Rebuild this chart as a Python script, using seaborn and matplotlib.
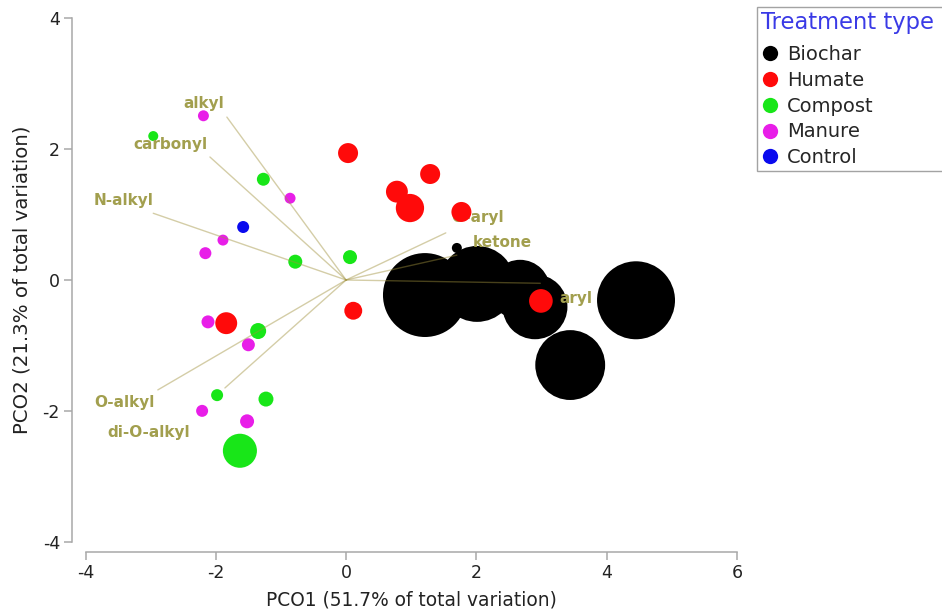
import matplotlib
matplotlib.use("Agg")
import matplotlib.pyplot as plt
from matplotlib.lines import Line2D
import numpy as np
import pandas as pd
import seaborn as sns

# --- Sample scores on the first two principal coordinates ---
treatments = ["Biochar", "Humate", "Compost", "Manure", "Control"]

biochar_pco1 = [1.21, 2.01, 2.67, 2.90, 4.45, 3.44, 1.70]
biochar_pco2 = [-0.23, -0.06, -0.15, -0.41, -0.31, -1.30, 0.49]
biochar_bubble = [176, 144, 90, 105, 152, 122, 2.5]

humate_pco1 = [0.03, 0.78, 0.98, 1.29, 1.77, 0.11, -1.84, 2.99]
humate_pco2 = [1.94, 1.35, 1.10, 1.62, 1.04, -0.47, -0.66, -0.32]
humate_bubble = [10, 12, 20, 10, 10, 8, 12, 14]

compost_pco1 = [-2.96, -1.27, 0.06, -0.78, -1.35, -1.98, -1.23, -1.63]
compost_pco2 = [2.20, 1.54, 0.35, 0.28, -0.78, -1.76, -1.82, -2.61]
compost_bubble = [2.5, 4.2, 4.9, 4.9, 6.4, 3.6, 5.6, 29]

manure_pco1 = [-2.19, -0.86, -1.89, -2.16, -2.12, -1.50, -2.21, -1.52]
manure_pco2 = [2.51, 1.25, 0.61, 0.41, -0.64, -0.99, -2.00, -2.16]
manure_bubble = [3.0, 3.0, 3.0, 3.6, 4.2, 4.2, 3.6, 4.9]

control_pco1 = [-1.58]
control_pco2 = [0.81]
control_bubble = [3.6]

# --- Vector overlay of C functional groups ---
vector_names = ["alkyl", "carbonyl", "N-alkyl", "O-alkyl", "di-O-alkyl",
                "O-aryl", "ketone", "aryl"]
vector_pco1 = [-1.83, -2.09, -2.96, -2.89, -1.86, 1.53, 1.70, 2.98]
vector_pco2 = [2.49, 1.88, 1.02, -1.68, -1.65, 0.72, 0.38, -0.05]

# label placement relative to vector tips (points), alignment, layer
label_offsets = {
    "alkyl": (-17, 10, "center", 4),
    "carbonyl": (-2, 9, "right", 4),
    "N-alkyl": (0, 9, "right", 4),
    "O-alkyl": (-2, -9, "right", 4),
    "di-O-alkyl": (-25, -32, "right", 4),
    "O-aryl": (4, 11, "left", 1),
    "ketone": (11.5, 9, "left", 4),
    "aryl": (14, -11, "left", 4),
}

palette = {
    "Biochar": "#000000",
    "Humate": "#ff0a0a",
    "Compost": "#18e618",
    "Manure": "#e81ee8",
    "Control": "#0a0aee",
}

frames = []
for name, xs, ys, bs in [
    ("Biochar", biochar_pco1, biochar_pco2, biochar_bubble),
    ("Humate", humate_pco1, humate_pco2, humate_bubble),
    ("Compost", compost_pco1, compost_pco2, compost_bubble),
    ("Manure", manure_pco1, manure_pco2, manure_bubble),
    ("Control", control_pco1, control_pco2, control_bubble),
]:
    frames.append(pd.DataFrame({"PCO1": xs, "PCO2": ys, "bubble": bs,
                                "Treatment": name}))
scores = pd.concat(frames, ignore_index=True)

sns.set_theme(style="white")
plt.rcParams["font.family"] = ["DejaVu Sans"]
plt.rcParams["axes.unicode_minus"] = False

fig = plt.figure(figsize=(9.42, 6.14), dpi=100)
ax = fig.add_axes([85.5 / 942, 1 - 541.7 / 614,
                   (737 - 85.5) / 942, (541.7 - 18.3) / 614])

bubble_max = 200
sns.scatterplot(data=scores, x="PCO1", y="PCO2", hue="Treatment",
                hue_order=treatments, palette=palette,
                size="bubble", sizes=(0, 20.74 * bubble_max),
                size_norm=(0, bubble_max), linewidth=0, alpha=1,
                legend=False, ax=ax, zorder=2)

line_color = "#a0913c"
text_color = "#a29f4e"
for name, vx, vy in zip(vector_names, vector_pco1, vector_pco2):
    ax.plot([0, vx], [0, vy], color=line_color, alpha=0.45, lw=1.0, zorder=3)
    dx, dy, ha, layer = label_offsets[name]
    ax.annotate(name, xy=(vx, vy), xytext=(dx, dy), textcoords="offset points",
                ha=ha, va="center", fontsize=11, fontweight="bold",
                color=text_color, zorder=layer)

ax.set_xlim(-4, 6)
ax.set_ylim(-4, 4)
ax.set_xticks([-4, -2, 0, 2, 4, 6])
ax.set_yticks([-4, -2, 0, 2, 4])
ax.set_xlabel("PCO1 (51.7% of total variation)", fontsize=13.4, color="#222222",
              labelpad=6)
ax.set_ylabel("PCO2 (21.3% of total variation)", fontsize=14.2, color="#222222",
              labelpad=8)

for side in ["top", "right"]:
    ax.spines[side].set_visible(False)
ax.spines["left"].set_position(("outward", 9.4))
ax.spines["bottom"].set_position(("outward", 7.2))
for side in ["left", "bottom"]:
    ax.spines[side].set_color("#a8a8a8")
    ax.spines[side].set_linewidth(1.1)
ax.tick_params(axis="both", which="major", direction="out", length=6,
               width=1.1, color="#a8a8a8", labelsize=12.5, labelcolor="#222222",
               pad=3, left=True, bottom=True)

# legend box runs off the right edge of the figure
handles = [Line2D([0], [0], marker="o", linestyle="", markersize=11,
                  markerfacecolor=palette[t], markeredgewidth=0)
           for t in treatments]
leg = fig.legend(handles, treatments, loc="upper left",
                 bbox_to_anchor=(757 / 942, 0, 0.27, 1 - 7 / 614),
                 mode="expand", borderaxespad=0,
                 frameon=True, fancybox=False, fontsize=14,
                 title="Treatment type", title_fontsize=16.3,
                 alignment="left", handlelength=0.9, handletextpad=0.45,
                 labelspacing=0.35, borderpad=0.2)
leg._legend_box.sep = 8
leg.get_title().set_color("#3a3ae6")
leg.get_frame().set_edgecolor("#8c8c8c")
leg.get_frame().set_linewidth(1.0)

fig.savefig("out.png", dpi=100)
